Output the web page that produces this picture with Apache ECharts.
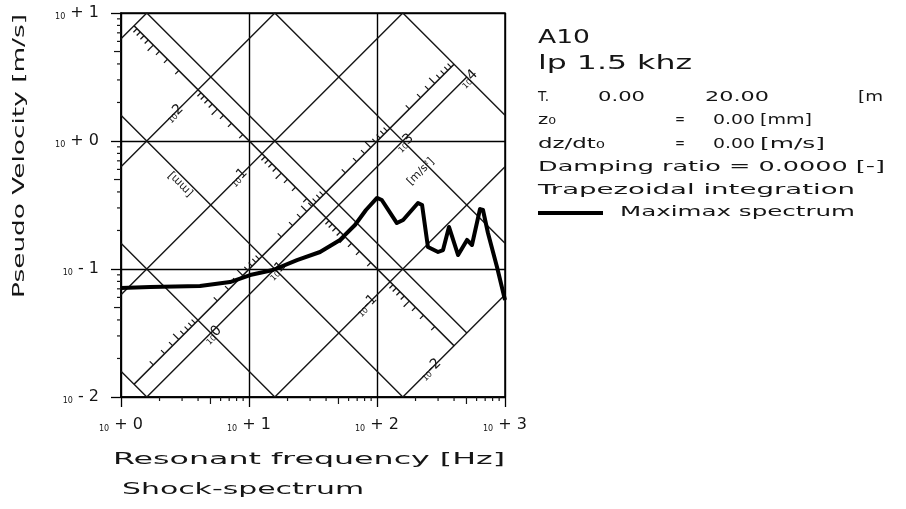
<!DOCTYPE html>
<html>
<head>
<meta charset="utf-8">
<title>Shock-spectrum A10</title>
<script src="https://cdn.jsdelivr.net/npm/echarts@6/dist/echarts.min.js"></script>
<style>
  html, body { margin: 0; padding: 0; background: #fff; }
  #chart { width: 906px; height: 509px; }
</style>
</head>
<body>
<div id="chart"></div>
<script>
// maximax spectrum
var freqHz = [1.0, 1.69, 4.14, 7.11, 10.2, 15.4, 23.7, 35.9, 51.4, 67.3, 82.0, 100, 109, 143, 160,
              209, 225, 250, 300, 328, 365, 430, 505, 552, 638, 673, 736, 866, 1000];
var velMs = [0.0711, 0.0723, 0.0736, 0.0791, 0.0897, 0.0982, 0.1175, 0.1358, 0.1687, 0.2208, 0.289, 0.359, 0.346, 0.2286, 0.2415,
             0.328, 0.316, 0.1486, 0.1358, 0.1406, 0.213, 0.1285, 0.1687, 0.154, 0.294, 0.289, 0.191, 0.1038, 0.0573];

// tripartite grid: constant displacement [mm] and constant acceleration [m/s2] lines
var dispMm = [1000, 100, 10, 1, 0.1, 0.01];
var accMs2 = [0.1, 1, 10, 100, 1000, 10000];
var dispLabelExp = [2, 1, -1, -2];
var accLabelExp = [0, 1, 3, 4];
var mantissas = [2, 3, 4, 5, 6, 7, 8, 9];
var xDecades = [1, 10, 100];
var yDecades = [0.01, 0.1, 1];

// the two scale rulers: which grid line they sit next to and what they span
var dispRuler = { base: 100, shift: -0.2, from: 1000, to: 0.01 };
var accRuler = { base: 1, shift: 0.2, from: 0.1, to: 10000 };

// text block on the right: [text, left, right, middle y, size]
var infoText = [
    ['A10', 538, 590, 38, 19],
    ['lp 1.5 khz', 538, 692, 64, 19],
    ['T.', 538, 549, 97, 14], ['0.00', 598, 645, 97, 14], ['20.00', 705, 769, 97, 14], ['[m', 858, 883, 97, 14],
    ['z₀', 538, 556, 120, 14], ['=', 675, 685, 120, 14], ['0.00', 713, 755, 120, 14], ['[mm]', 760, 812, 120, 14],
    ['dz/dt₀', 538, 605, 144, 14], ['=', 675, 685, 144, 14], ['0.00', 713, 755, 144, 14], ['[m/s]', 760, 825, 144, 14],
    ['Damping ratio = 0.0000 [-]', 538, 885, 167, 14],
    ['Trapezoidal integration', 538, 855, 190, 14],
    ['Maximax spectrum', 620, 855, 212, 14]
];

var INK = '#151515';
var FONT = '"DejaVu Sans", sans-serif';
var K = Math.log10(2 * Math.PI);

function cDisp(mm) { return Math.log10(mm / 1000) + K; }   // log v - log f
function sAcc(a) { return Math.log10(a) - K; }              // log v + log f

var mctx = document.createElement('canvas').getContext('2d');
function stretch(str, px, width) {
    mctx.font = px + 'px ' + FONT;
    return width / mctx.measureText(str).width;
}

function renderNomo(params, api) {
    var kids = [];
    function P(s, c) { return api.coord([Math.pow(10, (s - c) / 2), Math.pow(10, (s + c) / 2)]); }
    function seg(a, b, w) {
        kids.push({ type: 'line', shape: { x1: a[0], y1: a[1], x2: b[0], y2: b[1] },
                    style: { stroke: INK, lineWidth: w } });
    }
    function tick(p, q, len) {
        var dx = q[0] - p[0], dy = q[1] - p[1], n = Math.sqrt(dx * dx + dy * dy);
        seg(p, [p[0] + dx / n * len, p[1] + dy / n * len], 1.2);
    }
    function txt(p, rot, text, rich) {
        kids.push({ type: 'text', x: p[0], y: p[1], rotation: rot,
                    style: { text: text, rich: rich, fill: INK, font: '11px ' + FONT,
                             align: 'center', verticalAlign: 'middle' } });
    }
    var labRich = {
        s: { fontSize: 8, fontFamily: FONT, color: INK, verticalAlign: 'bottom' },
        b: { fontSize: 14, fontFamily: FONT, color: INK, verticalAlign: 'bottom' }
    };

    var sDR = sAcc(dispRuler.base) + dispRuler.shift;
    var cDR0 = cDisp(dispRuler.to), cDR1 = cDisp(dispRuler.from);
    var cAR = cDisp(accRuler.base) + accRuler.shift;
    var sAR0 = sAcc(accRuler.from), sAR1 = sAcc(accRuler.to);

    dispMm.forEach(function (d) {
        var c = cDisp(d);
        var lo = Math.max(c, -4 - c), hi = Math.min(6 + c, 2 - c);
        if (d === accRuler.base) { lo = Math.max(lo, sAR0); hi = Math.min(hi, sAR1); }
        if (hi > lo) seg(P(lo, c), P(hi, c), 1.4);
    });
    accMs2.forEach(function (a) {
        var s = sAcc(a);
        var lo = Math.max(s - 6, -4 - s), hi = Math.min(s, 2 - s);
        if (a === dispRuler.base) { lo = Math.max(lo, cDR0); hi = Math.min(hi, cDR1); }
        if (hi > lo) seg(P(s, lo), P(s, hi), 1.4);
    });

    // rulers
    seg(P(sDR, cDR0), P(sDR, cDR1), 1.6);
    seg(P(sAR0, cAR), P(sAR1, cAR), 1.6);
    [-2, -1, 0, 1, 2].forEach(function (n) {
        mantissas.forEach(function (m) {
            var c = cDisp(m * Math.pow(10, n));
            tick(P(sDR, c), P(sDR - 1, c), m === 5 ? 8 : 5);
        });
    });
    [-1, 0, 1, 2, 3].forEach(function (n) {
        mantissas.forEach(function (m) {
            var s = sAcc(m * Math.pow(10, n));
            tick(P(s, cAR), P(s, cAR + 1), m === 5 ? 8 : 5);
        });
    });

    // ruler labels
    dispLabelExp.forEach(function (e) {
        txt(P(sDR - 0.37, cDisp(Math.pow(10, e))), Math.PI / 4, '{s|10}{b|' + e + '}', labRich);
    });
    accLabelExp.forEach(function (e) {
        txt(P(sAcc(Math.pow(10, e)), cAR - 0.23), Math.PI / 4, '{s|10}{b|' + e + '}', labRich);
    });
    txt(P(sDR - 0.87, cDisp(100) - 0.6), Math.PI * 3 / 4, '[mm]');
    txt(P(sAcc(1000) - 0.1, cAR - 0.58), Math.PI / 4, '[m/s²]');

    // minor ticks on the frame
    xDecades.forEach(function (dec) {
        mantissas.forEach(function (m) {
            var p = api.coord([m * dec, 0.01]);
            seg(p, [p[0], p[1] + (m === 5 ? 7 : 4)], 1.2);
        });
    });
    yDecades.forEach(function (dec) {
        mantissas.forEach(function (m) {
            var p = api.coord([1, m * dec]);
            seg(p, [p[0] - (m === 5 ? 7 : 4), p[1]], 1.2);
        });
    });
    return { type: 'group', children: kids };
}

function expLabel(v) {
    var e = Math.round(Math.log10(v));
    return '{s|10}{b| ' + (e < 0 ? '- ' : '+ ') + Math.abs(e) + '}';
}
var axisRich = {
    s: { fontSize: 8, fontFamily: FONT, color: INK, verticalAlign: 'bottom' },
    b: { fontSize: 16, fontFamily: FONT, color: INK, verticalAlign: 'bottom' }
};

function textEl(str, x, y, px, k, rot, align) {
    align = align || 'left';
    return { type: 'text', x: x, y: y, scaleX: k, rotation: rot || 0, silent: true,
             style: { text: str, font: px + 'px ' + FONT, fill: INK,
                      align: align, verticalAlign: 'middle', textAlign: align, textVerticalAlign: 'middle' } };
}

var graphics = [
    textEl('Pseudo Velocity [m/s]', 20, 156, 16, stretch('Pseudo Velocity [m/s]', 16, 284), Math.PI / 2, 'center'),
    textEl('Resonant frequency [Hz]', 113, 460, 16, stretch('Resonant frequency [Hz]', 16, 392)),
    textEl('Shock-spectrum', 122, 490, 16, stretch('Shock-spectrum', 16, 242))
];
infoText.forEach(function (t) {
    graphics.push(textEl(t[0], t[1], t[3], t[4], stretch(t[0], t[4], t[2] - t[1])));
});

var chart = echarts.init(document.getElementById('chart'), null, { renderer: 'canvas' });
chart.setOption({
    backgroundColor: '#fff',
    animation: false,
    grid: { left: 121, top: 13, width: 384, height: 384, show: true,
            borderColor: '#000', borderWidth: 1.5, backgroundColor: 'transparent' },
    legend: { left: 538, top: 211, padding: 0, icon: 'rect', itemWidth: 65, itemHeight: 4,
              formatter: function () { return ''; }, textStyle: { fontSize: 4 },
              data: ['Maximax spectrum'] },
    xAxis: {
        type: 'log', logBase: 10, min: 1, max: 1000,
        axisLine: { lineStyle: { color: '#000', width: 1.5 } },
        axisTick: { length: 10, lineStyle: { color: '#000', width: 1.3 } },
        splitLine: { show: true, lineStyle: { color: '#000', width: 1.4 } },
        axisLabel: { margin: 20, formatter: expLabel, rich: axisRich }
    },
    yAxis: {
        type: 'log', logBase: 10, min: 0.01, max: 10,
        axisLine: { lineStyle: { color: '#000', width: 1.5 } },
        axisTick: { length: 10, lineStyle: { color: '#000', width: 1.3 } },
        splitLine: { show: true, lineStyle: { color: '#000', width: 1.4 } },
        axisLabel: { margin: 22, formatter: expLabel, rich: axisRich }
    },
    graphic: graphics,
    series: [
        { type: 'custom', name: 'nomograph', silent: true, z: 3,
          renderItem: renderNomo, data: [[1, 1]] },
        { type: 'line', name: 'Maximax spectrum', z: 5,
          data: freqHz.map(function (f, i) { return [f, velMs[i]]; }),
          showSymbol: false, color: '#000',
          lineStyle: { color: '#000', width: 4, join: 'round' } }
    ]
});
</script>
</body>
</html>
